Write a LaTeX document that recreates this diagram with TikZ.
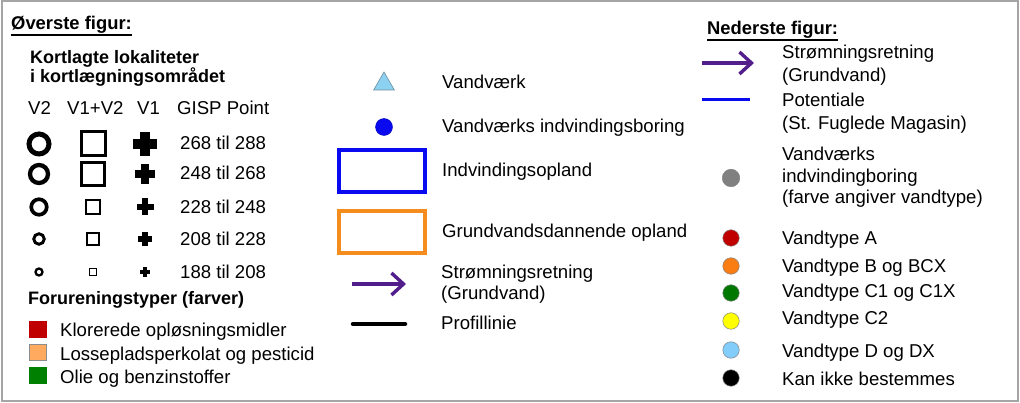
\documentclass[tikz,border=0pt]{standalone}
\usepackage{fontspec}
\setmainfont{Liberation Sans}
\usetikzlibrary{arrows.meta,shapes.geometric}
\definecolor{framegray}{RGB}{165,165,165}
\definecolor{flowpurple}{RGB}{82,30,140}
\definecolor{boxblue}{RGB}{10,10,240}
\definecolor{boxorange}{RGB}{245,140,30}
\definecolor{trifill}{RGB}{140,210,240}
\definecolor{triline}{RGB}{110,140,160}
\definecolor{sqred}{RGB}{192,0,0}
\definecolor{sqorange}{RGB}{255,170,95}
\definecolor{sqgreen}{RGB}{0,128,0}
\definecolor{dred}{RGB}{192,0,0}
\definecolor{dorange}{RGB}{250,125,20}
\definecolor{dgreen}{RGB}{0,120,0}
\definecolor{dyellow}{RGB}{255,255,0}
\definecolor{dlblue}{RGB}{130,205,250}
\definecolor{dgray}{RGB}{128,128,128}
\tikzset{
  txt/.style={anchor=base west, inner sep=0pt, font=\fontsize{18.6}{22}\selectfont},
  btxt/.style={anchor=base west, inner sep=0pt, font=\fontsize{18}{22}\selectfont\bfseries},
  htxt/.style={anchor=base west, inner sep=0pt, font=\fontsize{18.4}{22}\selectfont\bfseries},
  ring/.style={circle, draw=black, inner sep=0pt},
  sqbox/.style={rectangle, draw=black, inner sep=0pt},
  colsq/.style={rectangle, inner sep=0pt, minimum width=17pt, minimum height=16pt, draw=black!45, line width=0.4pt},
  dotm/.style={circle, inner sep=0pt, minimum size=16.5pt, draw=black!50, line width=0.5pt},
  flowarrow/.style={draw=flowpurple, line width=3.4pt, -{Straight Barb[length=12pt,width=22pt,line width=3.4pt]}},
  plusm/.pic={\fill (-0.5,-0.2) rectangle (0.5,0.2); \fill (-0.2,-0.5) rectangle (0.2,0.5);}
}
\begin{document}
\begin{tikzpicture}[x=1pt,y=-1pt]
\useasboundingbox (0,0) rectangle (1020,403);
\draw[framegray, line width=2pt] (1.5,1.5) rectangle (1018,401);

% ---------- left column ----------
\node[htxt] (h1) at (11,30) {Øverste figur:};
\draw[line width=1.6pt] ([yshift=-5pt]h1.base west) -- ([yshift=-5pt]h1.base east);
\node[btxt] (k1) at (30,64) {Kortlagte lokaliteter};
\node[btxt] (k2) at (30,83) {i kortlægningsområdet};
\node[txt] (cV2) at (28,115) {V2};
\node[txt] (cV12) at (67,115) {V1+V2};
\node[txt] (cV1) at (137,115) {V1};
\node[txt] (cG) at (177,115) {GISP Point};

\node[ring, minimum size=20pt, line width=5pt] (c1) at (39,144) {};
\node[ring, minimum size=18pt, line width=4.3pt] (c2) at (39,174) {};
\node[ring, minimum size=15.5pt, line width=3.7pt] (c3) at (39,207) {};
\node[ring, minimum size=10.5pt, line width=2.9pt] (c4) at (39,239) {};
\node[ring, minimum size=7pt, line width=2.3pt] (c5) at (39,272) {};

\node[sqbox, minimum size=24pt, line width=3pt] (s1) at (93,144) {};
\node[sqbox, minimum size=22.5pt, line width=2.6pt] (s2) at (93,174) {};
\node[sqbox, minimum size=14pt, line width=2pt] (s3) at (93,207) {};
\node[sqbox, minimum size=12.5pt, line width=1.6pt] (s4) at (93,239) {};
\node[sqbox, minimum size=6.5pt, line width=1.2pt] (s5) at (93,272) {};

\pic[scale=24] at (145,144) {plusm};
\pic[scale=20] at (145,174) {plusm};
\pic[scale=17] at (145,207) {plusm};
\pic[scale=14] at (145,239) {plusm};
\pic[scale=10] at (145,272) {plusm};

\node[txt] (t1) at (180,150) {268 til 288};
\node[txt] (t2) at (180,180) {248 til 268};
\node[txt] (t3) at (180,214) {228 til 248};
\node[txt] (t4) at (180,246) {208 til 228};
\node[txt] (t5) at (180,279) {188 til 208};

\node[btxt] (fh) at (28,305) {Forureningstyper (farver)};
\node[colsq, fill=sqred, draw=sqred] (q1) at (38,329) {};
\node[colsq, fill=sqorange] (q2) at (38,352) {};
\node[colsq, fill=sqgreen, draw=sqgreen] (q3) at (38,375) {};
\node[txt] (ft1) at (60,337) {Klorerede opløsningsmidler};
\node[txt] (ft2) at (60,360) {Lossepladsperkolat og pesticid};
\node[txt] (ft3) at (60,383) {Olie og benzinstoffer};

% ---------- middle column ----------
\node[isosceles triangle, shape border rotate=90, isosceles triangle apex angle=60, fill=trifill, draw=triline, line width=0.6pt, inner sep=0pt, minimum height=18pt, minimum width=20pt] (tri) at (384,84) {};
\node[txt] (m1) at (442,89) {Vandværk};
\node[circle, fill=boxblue, draw=blue!70!black, line width=0.4pt, inner sep=0pt, minimum size=17pt] (bd) at (384,127) {};
\node[txt] (m2) at (442,133) {Vandværks indvindingsboring};
\node[rectangle, draw=boxblue, line width=4.2pt, minimum width=86pt, minimum height=42pt, inner sep=0pt] (br) at (382,171) {};
\node[txt] (m3) at (442,177) {Indvindingsopland};
\node[rectangle, draw=boxorange, line width=4.2pt, minimum width=86pt, minimum height=42pt, inner sep=0pt] (or) at (382,232) {};
\node[txt] (m4) at (442,238) {Grundvandsdannende opland};
\coordinate (a1s) at (352,284);
\coordinate (a1e) at (406,284);
\draw[flowarrow] (a1s) -- (a1e);
\node[txt] (m5) at (441,279) {Strømningsretning};
\node[txt] (m6) at (441,300) {(Grundvand)};
\coordinate (p1s) at (353,324);
\coordinate (p1e) at (405,324);
\draw[line width=4.5pt, line cap=round] (p1s) -- (p1e);
\node[txt] (m7) at (441,330) {Profillinie};

% ---------- right column ----------
\node[htxt] (h2) at (707,35) {Nederste figur:};
\draw[line width=1.6pt] ([yshift=-5pt]h2.base west) -- ([yshift=-5pt]h2.base east);
\coordinate (a2s) at (702,63);
\coordinate (a2e) at (754,63);
\draw[flowarrow] (a2s) -- (a2e);
\node[txt] (r1) at (782,59) {Strømningsretning};
\node[txt] (r2) at (782,82) {(Grundvand)};
\coordinate (b2s) at (702,100);
\coordinate (b2e) at (750,100);
\draw[boxblue, line width=3pt] (b2s) -- (b2e);
\node[txt] (r3) at (782,107) {Potentiale};
\node[txt] (r4) at (782,130) {(St. Fuglede Magasin)};
\node[dotm, fill=dgray, minimum size=17.5pt] (gd) at (731,178) {};
\node[txt] (r5) at (782,161) {Vandværks};
\node[txt] (r6) at (782,183) {indvindingboring};
\node[txt] (r7) at (782,204) {(farve angiver vandtype)};

\node[dotm, fill=dred] (d1) at (731,238) {};
\node[dotm, fill=dorange] (d2) at (731,266) {};
\node[dotm, fill=dgreen] (d3) at (731,293) {};
\node[dotm, fill=dyellow] (d4) at (731,321) {};
\node[dotm, fill=dlblue] (d5) at (731,350) {};
\node[dotm, fill=black] (d6) at (731,378) {};
\node[txt] (v1) at (782,245) {Vandtype A};
\node[txt] (v2) at (782,273) {Vandtype B og BCX};
\node[txt] (v3) at (782,298) {Vandtype C1 og C1X};
\node[txt] (v4) at (782,325) {Vandtype C2};
\node[txt] (v5) at (782,357) {Vandtype D og DX};
\node[txt] (v6) at (782,385) {Kan ikke bestemmes};
\end{tikzpicture}
\end{document}
